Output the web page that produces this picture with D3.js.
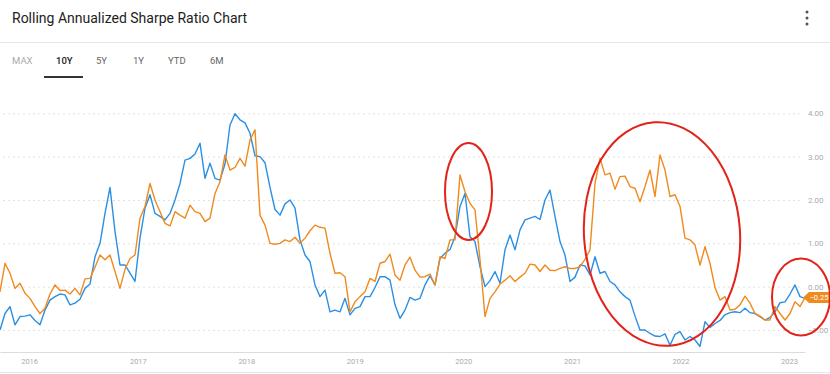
<!DOCTYPE html>
<html>
<head>
<meta charset="utf-8">
<script src="https://cdn.jsdelivr.net/npm/d3@7/dist/d3.min.js"></script>
<style>
  body { margin: 0; background: #fff; font-family: Roboto, "Noto Sans", sans-serif; }
  svg { display: block; }
</style>
</head>
<body>
<div id="chart"></div>
<script>
// Data (roughly every 17 days)
var startDate = new Date(2015, 8, 25);
var endDate = new Date(2023, 1, 24);

var blueValues = [
  -1.00, -0.62, -0.46, -0.88, -0.69, -0.68, -0.65, -0.78, -0.88, -0.54, -0.31, -0.23, -0.17, -0.19, -0.42, -0.38, -0.29, -0.04, 0.06, 0.69, 1.00, 1.69, 2.29, 1.27, 0.50, 0.50, 0.31,
  0.12, 1.12, 1.81, 2.12, 1.69, 1.62, 1.54, 1.69, 2.00, 2.38, 2.92, 2.96, 3.06, 3.31, 2.50, 2.85, 2.50, 2.46, 2.83, 3.73, 3.99, 3.85, 3.78, 3.54, 3.02, 3.00, 2.86,
  2.29, 1.78, 1.65, 1.91, 2.00, 1.81, 1.08, 0.73, 0.58, 0.04, -0.23, -0.08, -0.58, -0.54, -0.58, -0.27, -0.65, -0.50, -0.46, -0.23, -0.23, -0.02, 0.23, 0.23, 0.15, -0.42, -0.73,
  -0.54, -0.25, -0.31, -0.27, 0.04, 0.25, 0.04, 0.65, 0.77, 0.86, 1.15, 1.85, 2.15, 1.15, 1.04, 0.46, 0.00, 0.14, 0.35, 0.08, 0.85, 1.19, 0.85, 1.31, 1.54, 1.58, 1.62,
  1.55, 2.00, 2.23, 1.62, 1.04, 0.73, 0.12, 0.22, 0.50, 0.48, 0.27, 0.69, 0.31, 0.35, 0.12, 0.04, -0.12, -0.23, -0.31, -0.68, -1.00, -1.00, -1.08, -1.14, -1.15, -1.09, -1.35,
  -1.10, -1.04, -1.23, -1.15, -1.23, -1.38, -0.81, -0.94, -0.85, -0.78, -0.65, -0.60, -0.58, -0.60, -0.50, -0.60, -0.62, -0.69, -0.77, -0.71, -0.58, -0.37, -0.35, -0.17, 0.04, -0.23, -0.27
];

var orangeValues = [
  -0.12, 0.54, 0.31, -0.04, 0.08, -0.15, -0.27, -0.46, -0.62, -0.50, -0.17, 0.04, -0.09, -0.08, -0.17, -0.04, -0.19, 0.18, 0.19, 0.45, 0.73, 0.62, 0.73, 0.35, -0.04, 0.40, 0.65,
  0.73, 1.58, 1.85, 2.38, 2.00, 1.73, 1.46, 1.40, 1.73, 1.65, 1.58, 1.88, 1.73, 1.69, 1.50, 1.58, 2.15, 2.42, 3.04, 2.69, 2.75, 2.96, 2.78, 3.38, 3.62, 1.65, 1.42,
  1.00, 0.98, 1.00, 1.08, 1.04, 1.14, 1.00, 1.12, 1.29, 1.42, 1.37, 1.35, 0.77, 0.31, 0.32, 0.23, -0.58, -0.35, -0.23, -0.12, 0.19, 0.12, 0.54, 0.58, 0.75, 0.27, 0.15,
  0.50, 0.68, 0.38, 0.22, 0.23, 0.29, 0.04, 0.69, 0.65, 1.08, 1.08, 2.58, 2.19, 1.92, 1.77, 0.62, -0.69, -0.27, -0.12, 0.06, 0.15, 0.25, 0.12, 0.22, 0.31, 0.52, 0.50,
  0.35, 0.50, 0.38, 0.37, 0.42, 0.46, 0.42, 0.42, 0.46, 0.63, 0.85, 2.38, 2.96, 2.58, 2.62, 2.25, 2.54, 2.55, 2.31, 2.27, 1.96, 2.31, 2.69, 2.08, 3.04, 2.69, 2.08,
  2.12, 1.85, 1.12, 1.08, 0.96, 0.50, 0.92, 0.54, -0.02, -0.31, -0.23, -0.54, -0.52, -0.42, -0.22, -0.38, -0.62, -0.68, -0.77, -0.77, -0.46, -0.62, -0.77, -0.62, -0.35, -0.46, -0.25
];

var yTicks = [-1, 0, 1, 2, 3, 4];
var tabs = ["MAX", "10Y", "5Y", "1Y", "YTD", "6M"];
var tabX = [12, 56, 96, 133, 168, 210];
var activeTab = "10Y";

// Dates spread evenly over the range
var n = blueValues.length;
var step = (endDate - startDate) / (n - 1);
var dates = d3.range(n).map(function(i) { return new Date(+startDate + i * step); });

var width = 830, height = 374;
var blue = "#2b8fe3", orange = "#f08a1e", red = "#e2231a";

var svg = d3.select("#chart").append("svg")
    .attr("width", width)
    .attr("height", height);

// Header
svg.append("text")
    .attr("x", 12).attr("y", 23)
    .attr("font-size", 14)
    .attr("fill", "#222")
    .text("Rolling Annualized Sharpe Ratio Chart");

svg.selectAll(".menu-dot")
    .data([12, 18, 24])
    .enter().append("circle")
    .attr("cx", 807).attr("cy", function(d) { return d; })
    .attr("r", 1.5)
    .attr("fill", "#555");

svg.append("line")
    .attr("x1", 0).attr("x2", width)
    .attr("y1", 42.5).attr("y2", 42.5)
    .attr("stroke", "#e6e6e6");

svg.selectAll(".tab")
    .data(tabs)
    .enter().append("text")
    .attr("x", function(d, i) { return tabX[i]; })
    .attr("y", 64)
    .attr("font-size", 9.5)
    .attr("font-weight", function(d) { return d === activeTab ? 500 : 400; })
    .attr("fill", function(d, i) { return d === activeTab ? "#222" : (i === 0 ? "#aaa" : "#666"); })
    .text(function(d) { return d; });

svg.append("rect")
    .attr("x", 44).attr("y", 76)
    .attr("width", 39).attr("height", 2)
    .attr("fill", "#333");

// Scales
var x = d3.scaleTime().domain([startDate, endDate]).range([0, 805]);
var y = d3.scaleLinear().domain([-1, 4]).range([330, 113.3]);

// Grid lines
svg.append("g")
    .attr("transform", "translate(800,0)")
    .call(d3.axisLeft(y).tickValues(yTicks).tickSize(800).tickFormat(""))
    .call(function(g) {
        g.select(".domain").remove();
        g.selectAll("line").attr("stroke", "#e2e2e2").attr("stroke-dasharray", "2,3");
    });

// Y labels on the right
svg.append("g")
    .attr("transform", "translate(806,0)")
    .call(d3.axisRight(y).tickValues(yTicks).tickSize(0).tickPadding(2).tickFormat(d3.format(".2f")))
    .call(function(g) {
        g.select(".domain").remove();
        g.selectAll("text").attr("fill", "#aaa").attr("font-size", 8).attr("font-family", "Roboto");
    });

// X axis
svg.append("g")
    .attr("transform", "translate(0,352)")
    .call(d3.axisBottom(x).ticks(d3.timeYear.every(1)).tickSize(0).tickPadding(7).tickFormat(d3.timeFormat("%Y")))
    .call(function(g) {
        g.select(".domain").attr("stroke", "#dcdcdc");
        g.selectAll("text").attr("fill", "#aaa").attr("font-size", 7.5).attr("font-family", "Roboto");
    });

svg.append("line")
    .attr("x1", 0).attr("x2", width)
    .attr("y1", 372.5).attr("y2", 372.5)
    .attr("stroke", "#e8e8e8");

// Lines
var line = d3.line()
    .x(function(d, i) { return x(dates[i]); })
    .y(function(d) { return y(d); });

svg.append("path")
    .datum(blueValues)
    .attr("fill", "none")
    .attr("stroke", blue)
    .attr("stroke-width", 1.4)
    .attr("stroke-linejoin", "round")
    .attr("d", line);

svg.append("path")
    .datum(orangeValues)
    .attr("fill", "none")
    .attr("stroke", orange)
    .attr("stroke-width", 1.4)
    .attr("stroke-linejoin", "round")
    .attr("d", line);

// Last value tag
var lastVal = orangeValues[n - 1];
var tx = x(dates[n - 1]) - 2, ty = y(lastVal);
svg.append("path")
    .attr("d", "M" + tx + "," + ty + "l6,-5.5h30v11h-30z")
    .attr("fill", orange);
svg.append("text")
    .attr("x", tx + 16).attr("y", ty + 2.8)
    .attr("text-anchor", "middle")
    .attr("font-size", 7.5)
    .attr("fill", "#fff")
    .text(d3.format(".2f")(lastVal));

// Hand drawn red annotations
var marks = [
    {cx: 468.5, cy: 191.5, rx: 23.5, ry: 48.5, rot: 0},
    {cx: 662, cy: 234, rx: 78, ry: 112, rot: -4},
    {cx: 801, cy: 297, rx: 29, ry: 38.5, rot: 0}
];
svg.selectAll(".mark")
    .data(marks)
    .enter().append("ellipse")
    .attr("cx", function(d) { return d.cx; })
    .attr("cy", function(d) { return d.cy; })
    .attr("rx", function(d) { return d.rx; })
    .attr("ry", function(d) { return d.ry; })
    .attr("transform", function(d) { return "rotate(" + d.rot + "," + d.cx + "," + d.cy + ")"; })
    .attr("fill", "none")
    .attr("stroke", red)
    .attr("stroke-width", 2);
</script>
</body>
</html>
